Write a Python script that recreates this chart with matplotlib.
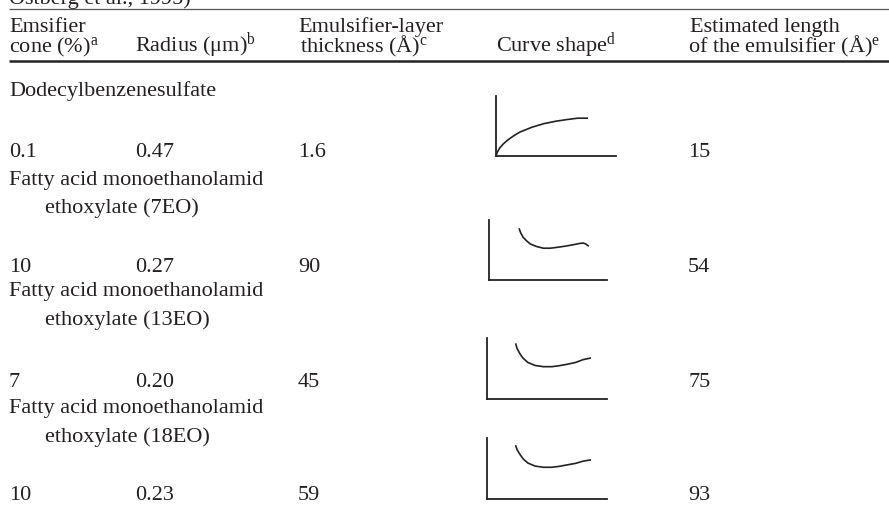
import matplotlib.pyplot as plt

plt.rcParams['font.family'] = ['Liberation Serif', 'DejaVu Serif']
plt.rcParams['mathtext.fontset'] = 'custom'
plt.rcParams['mathtext.rm'] = 'Liberation Serif'
plt.rcParams['mathtext.it'] = 'Liberation Serif:italic'

# table content
emulsifiers = [["Dodecylbenzenesulfate"],
               ["Fatty acid monoethanolamid", "ethoxylate (7EO)"],
               ["Fatty acid monoethanolamid", "ethoxylate (13EO)"],
               ["Fatty acid monoethanolamid", "ethoxylate (18EO)"]]
conc = ["0.1", "10", "7", "10"]
radius = ["0.47", "0.27", "0.20", "0.23"]
thickness = ["1.6", "90", "45", "59"]
est_length = ["15", "54", "75", "93"]

# curve shapes, normalised to the little axes
curve_x = [[0.0, 0.01, 0.03, 0.06, 0.1, 0.15, 0.2, 0.3, 0.4, 0.5, 0.6, 0.68, 0.76],
           [0.257, 0.27, 0.29, 0.32, 0.35, 0.40, 0.46, 0.52, 0.58, 0.65, 0.72,
            0.77, 0.80, 0.82, 0.84],
           [0.24, 0.25, 0.275, 0.30, 0.34, 0.40, 0.47, 0.54, 0.60, 0.67, 0.74,
            0.80, 0.86],
           [0.24, 0.25, 0.275, 0.30, 0.34, 0.40, 0.47, 0.54, 0.60, 0.67, 0.74,
            0.80, 0.86]]
curve_y = [[0.0, 0.06, 0.13, 0.20, 0.27, 0.34, 0.40, 0.48, 0.54, 0.58, 0.61, 0.63, 0.63],
           [0.85, 0.78, 0.71, 0.65, 0.60, 0.56, 0.53, 0.53, 0.545, 0.565, 0.59,
            0.61, 0.615, 0.60, 0.57],
           [0.90, 0.83, 0.74, 0.67, 0.60, 0.55, 0.53, 0.53, 0.545, 0.57, 0.60,
            0.645, 0.67],
           [0.87, 0.81, 0.73, 0.66, 0.59, 0.54, 0.52, 0.52, 0.535, 0.56, 0.585,
            0.62, 0.64]]

W, H = 889, 506
ink = '#231f20'
fs = 16

fig = plt.figure(figsize=(W / 100, H / 100), dpi=100)
ax = fig.add_axes([0, 0, 1, 1])
ax.set_xlim(0, W)
ax.set_ylim(H, 0)
ax.axis('off')

x0 = 9

# caption line, cut at the top as in the source page
ax.text(x0, 4, "Östberg et al., 1995)", fontsize=fs, color=ink, va='baseline')

# rules
ax.plot([x0, W], [9.5, 9.5], lw=0.9, color='#555555', solid_capstyle='butt')
ax.plot([x0, W], [62, 62], lw=1.8, color='#222222', solid_capstyle='butt')

# header
headers = [(x0, 32, "Emsifier"),
           (x0, 52, r"cone (%)$^{\rm a}$"),
           (135, 52, r"Radius ($\rm\mu$m)$^{\rm b}$"),
           (298, 32, "Emulsifier-layer"),
           (300, 52, r"thickness (Å)$^{\rm c}$"),
           (496, 52, r"Curve shape$^{\rm d}$"),
           (690, 32, "Estimated length"),
           (688, 52, r"of the emulsifier (Å)$^{\rm e}$")]
for x, y, s in headers:
    ax.text(x, y, s, fontsize=fs, color=ink, va='baseline')

# body rows
name_y = [[96], [185, 213], [296, 325], [413, 442]]
value_y = [157, 272, 387, 500]
curve_box = [(496, 97, 616, 157), (489, 221, 607, 281),
             (487, 339, 607, 400), (487, 439, 607, 500)]

for i in range(len(conc)):
    for j, line in enumerate(emulsifiers[i]):
        ax.text(x0 if j == 0 else 45, name_y[i][j], line,
                fontsize=fs, color=ink, va='baseline')
    y = value_y[i]
    ax.text(x0, y, conc[i], fontsize=fs, color=ink, va='baseline')
    ax.text(135, y, radius[i], fontsize=fs, color=ink, va='baseline')
    ax.text(298, y, thickness[i], fontsize=fs, color=ink, va='baseline')
    ax.text(688, y, est_length[i], fontsize=fs, color=ink, va='baseline')

    l, t, r, b = curve_box[i]
    cax = fig.add_axes([l / W, 1 - b / H, (r - l) / W, (b - t) / H])
    cax.set_xlim(0, 1)
    cax.set_ylim(0, 1)
    cax.set_xticks([])
    cax.set_yticks([])
    cax.patch.set_visible(False)
    for side in ['top', 'right']:
        cax.spines[side].set_visible(False)
    for side in ['left', 'bottom']:
        cax.spines[side].set_linewidth(1.3)
        cax.spines[side].set_color('#222222')
    cax.plot(curve_x[i], curve_y[i], color='#222222', lw=1.2, clip_on=False)

fig.savefig('out.png', dpi=100)
